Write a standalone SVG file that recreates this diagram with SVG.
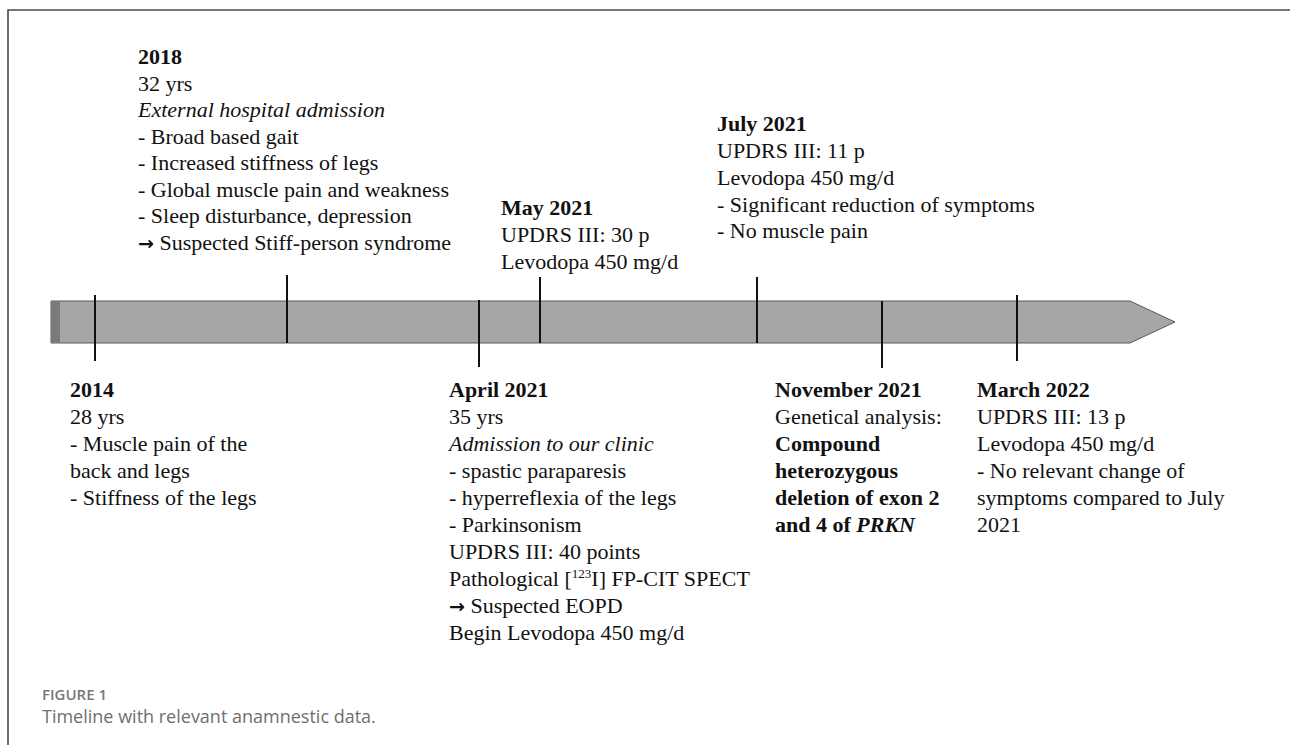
<svg xmlns="http://www.w3.org/2000/svg" width="1290" height="745" viewBox="0 0 1290 745">
<style>
.t{font-family:"Liberation Serif","Times New Roman",serif;font-size:22px;fill:#111}
.b{font-weight:bold}
.i{font-style:italic}
.ar{font-family:"DejaVu Sans",sans-serif;font-size:19px;font-weight:bold}
.tick{stroke:#111;stroke-width:2}
.cap1{font-family:"Open Sans","Noto Sans",sans-serif;font-size:15px;font-weight:600;fill:#777}
.cap2{font-family:"Open Sans","Noto Sans",sans-serif;font-size:18px;fill:#6f6f6f}
</style>
<rect x="0" y="0" width="1290" height="745" fill="#ffffff"/>
<path d="M8,745 V10 H1290" fill="none" stroke="#4a4a4a" stroke-width="1.6"/>
<g id="connectors">
<polygon points="51,301 1130,301 1175,322 1130,343 51,343" fill="#a6a6a6" stroke="#5a5a5a" stroke-width="1"/>
<rect x="51" y="301.5" width="9" height="41" fill="#7a7a7a"/>
<line class="tick" x1="95" y1="295" x2="95" y2="361"/>
<line class="tick" x1="287" y1="275" x2="287" y2="343"/>
<line class="tick" x1="479" y1="300" x2="479" y2="367"/>
<line class="tick" x1="540" y1="277" x2="540" y2="343"/>
<line class="tick" x1="757" y1="277" x2="757" y2="343"/>
<line class="tick" x1="882" y1="301" x2="882" y2="368"/>
<line class="tick" x1="1017" y1="295" x2="1017" y2="361"/>
</g>
<g id="n2018">
<text class="t b" x="138" y="64">2018</text>
<text class="t" x="138" y="90.5">32 yrs</text>
<text class="t i" x="138" y="117">External hospital admission</text>
<text class="t" x="138" y="143.5">- Broad based gait</text>
<text class="t" x="138" y="170">- Increased stiffness of legs</text>
<text class="t" x="138" y="196.5">- Global muscle pain and weakness</text>
<text class="t" x="138" y="223">- Sleep disturbance, depression</text>
<text class="t" x="138" y="249.5"><tspan class="ar">→</tspan> Suspected Stiff-person syndrome</text>
</g>
<g id="nMay2021">
<text class="t b" x="501" y="215">May 2021</text>
<text class="t" x="501" y="242">UPDRS III: 30 p</text>
<text class="t" x="501" y="269">Levodopa 450 mg/d</text>
</g>
<g id="nJuly2021">
<text class="t b" x="717" y="131">July 2021</text>
<text class="t" x="717" y="158">UPDRS III: 11 p</text>
<text class="t" x="717" y="185">Levodopa 450 mg/d</text>
<text class="t" x="717" y="212">- Significant reduction of symptoms</text>
<text class="t" x="717" y="238">- No muscle pain</text>
</g>
<g id="n2014">
<text class="t b" x="70" y="397">2014</text>
<text class="t" x="70" y="424">28 yrs</text>
<text class="t" x="70" y="451">- Muscle pain of the</text>
<text class="t" x="70" y="478">back and legs</text>
<text class="t" x="70" y="505">- Stiffness of the legs</text>
</g>
<g id="nApril2021">
<text class="t b" x="449" y="397">April 2021</text>
<text class="t" x="449" y="424">35 yrs</text>
<text class="t i" x="449" y="451">Admission to our clinic</text>
<text class="t" x="449" y="478">- spastic paraparesis</text>
<text class="t" x="449" y="505">- hyperreflexia of the legs</text>
<text class="t" x="449" y="532">- Parkinsonism</text>
<text class="t" x="449" y="559">UPDRS III: 40 points</text>
<text class="t" x="449" y="586">Pathological [<tspan font-size="13" dy="-8">123</tspan><tspan dy="8">I] FP-CIT SPECT</tspan></text>
<text class="t" x="449" y="613"><tspan class="ar">→</tspan> Suspected EOPD</text>
<text class="t" x="449" y="640">Begin Levodopa 450 mg/d</text>
</g>
<g id="nNov2021">
<text class="t b" x="775" y="397">November 2021</text>
<text class="t" x="775" y="424">Genetical analysis:</text>
<text class="t b" x="775" y="451">Compound</text>
<text class="t b" x="775" y="478">heterozygous</text>
<text class="t b" x="775" y="505">deletion of exon 2</text>
<text class="t b" x="775" y="532">and 4 of <tspan class="i">PRKN</tspan></text>
</g>
<g id="nMarch2022">
<text class="t b" x="977" y="397">March 2022</text>
<text class="t" x="977" y="424">UPDRS III: 13 p</text>
<text class="t" x="977" y="451">Levodopa 450 mg/d</text>
<text class="t" x="977" y="478">- No relevant change of</text>
<text class="t" x="977" y="505">symptoms compared to July</text>
<text class="t" x="977" y="532">2021</text>
</g>
<g id="caption">
<text class="cap1" x="42" y="700">FIGURE 1</text>
<text class="cap2" x="42" y="723">Timeline with relevant anamnestic data.</text>
</g>
</svg>
